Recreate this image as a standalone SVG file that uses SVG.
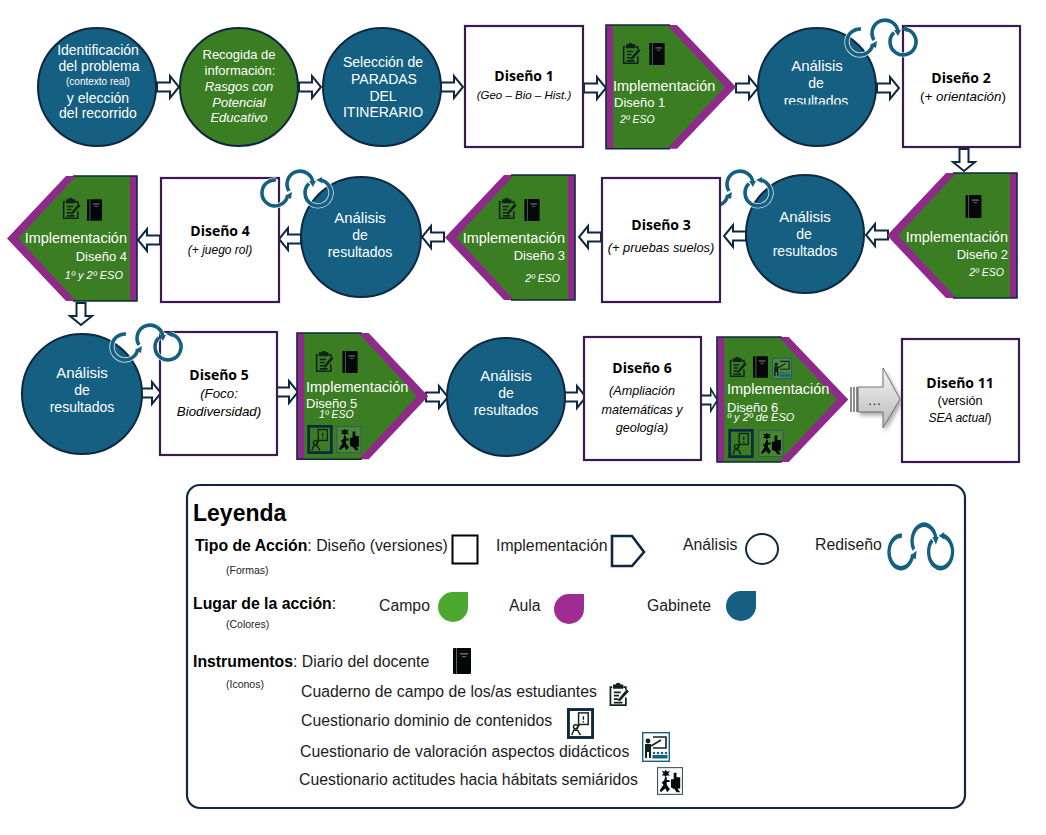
<svg xmlns="http://www.w3.org/2000/svg" width="1046" height="835" viewBox="0 0 1046 835">
<style>
text{font-family:"Liberation Sans",Arial,sans-serif}
.c{text-anchor:middle}.e{text-anchor:end}
.w{fill:#fff}.d{fill:#000}
.i{font-style:italic}
.s14{font-size:14px}.s15{font-size:15px}.s13{font-size:13px}.s12{font-size:12px}.s105{font-size:10.5px}
.t{font-family:"Open Sans","Liberation Sans",sans-serif;font-weight:700;font-size:14px;fill:#000;text-anchor:middle}
.blue{fill:#156082;stroke:#0e2841;stroke-width:2}
.green{fill:#3b7d23;stroke:#0e2841;stroke-width:2}
.box{fill:#fff;stroke:#3b1a4f;stroke-width:2.2}
.conn{fill:#fff;stroke:#0e2841;stroke-width:2;stroke-linejoin:miter}
.lg{font-size:15.8px;fill:#1c1c1c}
.lgb{font-size:15.8px;font-weight:700;fill:#000}
.sm{font-size:10.5px;fill:#222}
</style>
<defs>
<path id="arrow" class="conn" d="M0-4.5H13V-11L22 0 13 11V4.5H0Z"/>
<g id="impl">
<path fill="#8f2a8a" d="M0 0H71L130 62.5 71 125H0Z"/>
<path fill="#3b7d23" d="M7 0H61L119 62.5 61 125H7Z"/>
<path fill="none" stroke="#0e2841" stroke-width="1.6" d="M64 0H0V125H64"/>
</g>
<symbol id="clip" viewBox="0 0 24 28"><g fill="none" stroke="#10231a" stroke-width="2"><path d="M17 6H20V9M4 6H2V27H20V18"/><path d="M6 7V4H9A2 2 0 0 1 13 4H16V7Z" fill="#10231a"/><path d="M6 12H14M6 16H12M6 20H11M6 24H16"/><path d="M11 21 21 9 23 11 13 22Z" fill="#10231a" stroke-width="1"/></g></symbol>
<symbol id="book" viewBox="0 0 18 26"><rect width="18" height="26" rx="1" fill="#050808"/><rect x="3" y="0" width="1" height="26" fill="#5a6a60"/><rect x="7" y="5" width="8" height="1.6" fill="#5a6a60"/><rect x="9" y="8" width="4" height="1.2" fill="#5a6a60"/></symbol>
<symbol id="q1" viewBox="0 0 28 32"><rect x="1.500" y="1.500" width="25" height="29" fill="none" stroke="#0e2841" stroke-width="3"/><g fill="none" stroke="#10231a" stroke-width="1.5"><rect x="12" y="5" width="10" height="12"/><path d="M17 8.500V12M17 13.500V15M13 17 10 21"/><circle cx="9" cy="19.500" r="2.300"/><path d="M5 28 7 23H11L14 28"/></g></symbol>
<symbol id="q2" viewBox="0 0 28 30"><rect x=".7" y=".7" width="26.600" height="28.600" fill="#fff" fill-opacity=".1" stroke="#156082" stroke-width="1.4"/><g fill="none" stroke="#10231a" stroke-width="1.6"><path d="M11 5H24V16H11"/><path d="M9 14 19 8"/></g><circle cx="6" cy="9" r="2.400" fill="#10231a"/><path fill="#10231a" d="M3 12H9V26H7V20H5V26H3Z"/><g fill="#156082"><circle cx="12" cy="21" r="1.300"/><circle cx="16" cy="21" r="1.300"/><circle cx="20" cy="21" r="1.300"/><circle cx="24" cy="21" r="1.300"/><rect x="10.500" y="23" width="15" height="3.500"/></g></symbol>
<symbol id="q3" viewBox="0 0 28 30"><rect x=".6" y=".6" width="26.800" height="28.800" fill="#fff" fill-opacity=".08" stroke="#3a5a58" stroke-width="1.2"/><g fill="#050808"><path d="M9 3 11 5 14 4 12 7 14 9 10.500 9 9 11 8 9 5 9 7 7 5 4 8 5Z"/><path d="M8.500 11H10.500V14H13L14 16H10.500V19L14 24 11 27 9 23 4 27 3 25 7 19 5 17 8 14Z"/><path d="M18 6H21V11H25V23H22L25 27H21L19 24 15 22V13H18Z"/></g></symbol>
<g id="redo" fill="none">
<g stroke="#fff" stroke-width="5.400" stroke-opacity=".75"><path d="M1-13A13 13 0 1 0 12.800 2"/><path d="M14-2A13 13 0 1 1 38-10"/><path d="M45-13A13 13 0 1 1 34-9.500"/></g>
<g stroke="#156082" stroke-width="3.600"><path d="M1-13A13 13 0 1 0 12.800 2"/><path d="M14-2A13 13 0 1 1 38-10"/><path d="M45-13A13 13 0 1 1 34-9.500"/></g>
<g fill="#156082"><path d="M10 3 16 6 17-1Z"/><path d="M34-12 41-12 38-6Z"/><path d="M47-16 47-10 41-13Z"/></g>
</g>
<linearGradient id="big" x1="0" y1="0" x2="0" y2="1"><stop offset="0" stop-color="#f4f4f4"/><stop offset="1" stop-color="#b9b9b9"/></linearGradient>
<filter id="sh" x="-20%" y="-20%" width="150%" height="150%"><feDropShadow dx="2" dy="3" stdDeviation="2" flood-color="#000" flood-opacity=".35"/></filter>
<path id="drop" d="M30 0V15A15 15 0 1 1 15 0Z"/>
</defs>

<g id="connectors">
<use href="#arrow" x="157" y="87"/><use href="#arrow" x="299" y="87"/><use href="#arrow" x="441" y="87"/><use href="#arrow" x="584" y="88"/><use href="#arrow" x="736" y="88"/><use href="#arrow" x="877" y="88"/>
<use href="#arrow" transform="translate(964 149) rotate(90)"/>
<use href="#arrow" transform="translate(888 235) rotate(180)"/><use href="#arrow" transform="translate(746 236) rotate(180)"/><use href="#arrow" transform="translate(601 237) rotate(180)"/><use href="#arrow" transform="translate(444 237) rotate(180)"/><use href="#arrow" transform="translate(301 239) rotate(180)"/><use href="#arrow" transform="translate(160 240) rotate(180)"/>
<use href="#arrow" transform="translate(81 303) rotate(90)"/>
<use href="#arrow" x="139" y="393"/><use href="#arrow" x="276" y="392"/><use href="#arrow" x="426" y="397"/><use href="#arrow" x="564" y="397"/><use href="#arrow" transform="translate(701 400) scale(.75 1)"/>
<g id="big-arrow"><path filter="url(#sh)" fill="url(#big)" stroke="#555" stroke-width=".8" d="M858 387H883V368L900 399 883 428V412H858Z"/><path fill="none" stroke="#444" stroke-width="1.2" d="M851 387V412M854 387V412M857 387V412"/><text x="875" y="405" class="c s14" fill="#222" letter-spacing="1">…</text></g>
</g>

<g id="n1"><circle class="blue" cx="97" cy="87" r="59"/><g class="s14"><text x="98" y="55" class="w c">Identificación</text><text x="99" y="71" class="w c">del problema</text><text x="98" y="85" class="w c" style="font-size:10px">(contexto real)</text><text x="98" y="103" class="w c">y elección</text><text x="98" y="118" class="w c">del recorrido</text></g></g>
<g id="n2"><circle class="green" cx="239" cy="87" r="59"/><g class="s13"><text x="239" y="59" class="w c">Recogida de</text><text x="240" y="75" class="w c">información:</text><text x="239" y="91" class="w c i">Rasgos con</text><text x="239" y="107" class="w c i">Potencial</text><text x="239" y="122" class="w c i">Educativo</text></g></g>
<g id="n3"><circle class="blue" cx="382" cy="87" r="59"/><g class="s14"><text x="383" y="67" class="w c">Selección de</text><text x="384" y="84" class="w c">PARADAS</text><text x="383" y="101" class="w c">DEL</text><text x="383" y="117" class="w c">ITINERARIO</text></g></g>
<g id="n4"><rect class="box" x="465" y="26" width="118" height="121"/><text x="524" y="81" class="t">Diseño 1</text><text x="524" y="99" class="d c i" style="font-size:11.5px">(Geo – Bio – Hist.)</text></g>
<g id="n5"><use href="#impl" transform="translate(606 25) scale(1 .99)"/><use href="#clip" x="622" y="42" width="19" height="22"/><use href="#book" x="649" y="43" width="16" height="22"/><text x="613" y="91" class="w" style="font-size:14.5px">Implementación</text><text x="614" y="107" class="w s13">Diseño 1</text><text x="620" y="123" class="w i s105">2º ESO</text></g>
<g id="n6"><circle class="blue" cx="817" cy="87" r="59"/><text x="817" y="71" class="w c s15">Análisis</text><text x="816" y="88" class="w c s14">de</text><clipPath id="cut"><rect x="770" y="90" width="90" height="14.500"/></clipPath><text x="816" y="106" class="w c s14" clip-path="url(#cut)">resultados</text></g>
<g id="n7"><rect class="box" x="903" y="26" width="117" height="121"/><text x="961" y="83" class="t">Diseño 2</text><text x="963" y="101" class="d c" style="font-size:13.4px">(<tspan class="i">+ orientación</tspan>)</text></g>
<use id="redo1" href="#redo" x="860" y="42"/>
<g id="n8"><use href="#impl" transform="translate(1017 173) scale(-1 1)"/><use href="#book" x="965" y="195" width="17" height="23"/><text x="1008" y="242" class="w e" style="font-size:14.5px">Implementación</text><text x="1008" y="259" class="w e s13">Diseño 2</text><text x="1004" y="276" class="w e i s105">2º ESO</text></g>
<g id="n9"><circle class="blue" cx="805" cy="234" r="59"/><text x="805" y="222" class="w c s15">Análisis</text><text x="804" y="239" class="w c s14">de</text><text x="805" y="256" class="w c s14">resultados</text><use href="#redo" x="715" y="193"/></g>
<g id="n10"><rect class="box" x="602" y="178" width="118" height="124"/><text x="661" y="230" class="t">Diseño 3</text><text x="661" y="252" class="d c i" style="font-size:12.8px">(+ pruebas suelos)</text></g>
<g id="n11"><use href="#impl" transform="translate(575 175) scale(-1 1)"/><use href="#clip" x="498" y="197" width="19" height="22"/><use href="#book" x="524" y="199" width="16" height="22"/><text x="565" y="243" class="w e" style="font-size:14.5px">Implementación</text><text x="565" y="260" class="w e s13">Diseño 3</text><text x="560" y="282" class="w e i s105">2º ESO</text></g>
<g id="n12"><circle class="blue" cx="361" cy="237" r="60"/><text x="360" y="223" class="w c s15">Análisis</text><text x="360" y="240" class="w c s14">de</text><text x="360" y="257" class="w c s14">resultados</text></g>
<g id="n13"><rect class="box" x="161" y="178" width="118" height="124"/><text x="220" y="236" class="t">Diseño 4</text><text x="220" y="254" class="d c i s12">(+ juego rol)</text></g>
<use id="redo3" href="#redo" x="275" y="193"/>
<g id="n14"><use href="#impl" transform="translate(137 176) scale(-1 1)"/><use href="#clip" x="62" y="197" width="19" height="22"/><use href="#book" x="87" y="199" width="15" height="22"/><text x="127" y="243" class="w e" style="font-size:14.5px">Implementación</text><text x="127" y="261" class="w e s13">Diseño 4</text><text x="123" y="279" class="w e i" style="font-size:11px">1º y 2º ESO</text></g>
<g id="n15"><circle class="blue" cx="82" cy="394" r="60"/><text x="82" y="378" class="w c s15">Análisis</text><text x="82" y="395" class="w c s14">de</text><text x="82" y="412" class="w c s14">resultados</text></g>
<g id="n16"><rect class="box" x="160" y="332" width="117" height="123"/><text x="219" y="380" class="t">Diseño 5</text><text x="219" y="398" class="d c i" style="font-size:13.3px">(Foco:</text><text x="219" y="416" class="d c i" style="font-size:13.3px">Biodiversidad)</text></g>
<use id="redo4" href="#redo" x="125" y="347"/>
<g id="n17"><use href="#impl" transform="translate(297 333) scale(1.01 1.01)"/><use href="#clip" x="315" y="350" width="19" height="22"/><use href="#book" x="342" y="351" width="16" height="22"/><text x="306" y="392" class="w" style="font-size:14.5px">Implementación</text><text x="306" y="408" class="w" style="font-size:13px">Diseño 5</text><text x="319" y="418" class="w i s105">1º ESO</text><use href="#q1" x="307" y="425" width="26" height="29"/><use href="#q3" x="336" y="426" width="26" height="27"/></g>
<g id="n18"><circle class="blue" cx="506" cy="397" r="59"/><text x="506" y="381" class="w c s15">Análisis</text><text x="506" y="398" class="w c s14">de</text><text x="506" y="415" class="w c s14">resultados</text></g>
<g id="n19"><rect class="box" x="584" y="337" width="117" height="123"/><text x="642" y="373" class="t">Diseño 6</text><text x="642" y="395" class="d c i" style="font-size:12.6px">(Ampliación</text><text x="642" y="414" class="d c i" style="font-size:12.6px">matemáticas y</text><text x="642" y="432" class="d c i" style="font-size:12.6px">geología)</text></g>
<g id="n20"><use href="#impl" transform="translate(717 337) scale(1.01 1)"/><use href="#clip" x="729" y="356" width="18" height="21"/><use href="#book" x="753" y="356" width="15" height="22"/><use href="#q2" x="772" y="357" width="20" height="23"/><text x="727" y="394" class="w" style="font-size:14.5px">Implementación</text><text x="727" y="412" class="w s13">Diseño 6</text><text x="727" y="421" class="w i" style="font-size:11px">º y 2º de ESO</text><use href="#q1" x="728" y="429" width="26" height="29"/><use href="#q3" x="757" y="430" width="28" height="27"/></g>
<g id="n21"><rect class="box" x="902" y="339" width="117" height="123"/><text x="960" y="388" class="t">Diseño 11</text><text x="960" y="405" class="d c" style="font-size:12.7px">(versión</text><text x="960" y="422" class="d c s12"><tspan class="i">SEA actual</tspan>)</text></g>

<g id="legend">
<rect x="187" y="485" width="778" height="323" rx="13" fill="#fff" stroke="#0e2841" stroke-width="2.200"/>
<text x="193" y="521" style="font-size:23px;font-weight:700">Leyenda</text>
<text x="195" y="551" class="lg"><tspan class="lgb">Tipo de Acción</tspan>: Diseño (versiones)</text>
<rect x="452.500" y="535.500" width="25" height="28" fill="none" stroke="#000" stroke-width="2"/>
<text x="496" y="551" class="lg">Implementación</text>
<path fill="none" stroke="#0e2841" stroke-width="2.600" d="M612 536H632L644 552 632 566H612Z"/>
<text x="683" y="550" class="lg">Análisis</text>
<ellipse cx="762" cy="549" rx="16" ry="15" fill="none" stroke="#0e2841" stroke-width="2"/>
<text x="815" y="550" class="lg">Rediseño</text>
<use href="#redo" transform="translate(901 552) scale(.92 1.25)"/>
<text x="226" y="574" class="sm">(Formas)</text>
<text x="193" y="609" class="lgb">Lugar de la acción<tspan style="font-weight:400">:</tspan></text>
<text x="379" y="611" class="lg">Campo</text><use href="#drop" x="438" y="592" fill="#4ea72e"/>
<text x="509" y="611" class="lg">Aula</text><use href="#drop" x="554" y="594" fill="#a02b93"/>
<text x="647" y="611" class="lg">Gabinete</text><use href="#drop" x="726" y="591" fill="#156082"/>
<text x="226" y="628" class="sm">(Colores)</text>
<text x="193" y="667" class="lg"><tspan class="lgb">Instrumentos</tspan>: Diario del docente</text>
<use href="#book" x="453" y="648" width="18" height="26"/>
<text x="226" y="688" class="sm">(Iconos)</text>
<text x="301" y="697" class="lg">Cuaderno de campo de los/as estudiantes</text><use href="#clip" x="608" y="682" width="22" height="24"/>
<text x="301" y="726" class="lg">Cuestionario dominio de contenidos</text><use href="#q1" x="567" y="708" width="27" height="31"/>
<text x="300" y="757" class="lg">Cuestionario de valoración aspectos didácticos</text><use href="#q2" x="642" y="732" width="28" height="30"/>
<text x="299" y="785" class="lg">Cuestionario actitudes hacia hábitats semiáridos</text><use href="#q3" x="657" y="766" width="26" height="30"/>
</g>
</svg>
